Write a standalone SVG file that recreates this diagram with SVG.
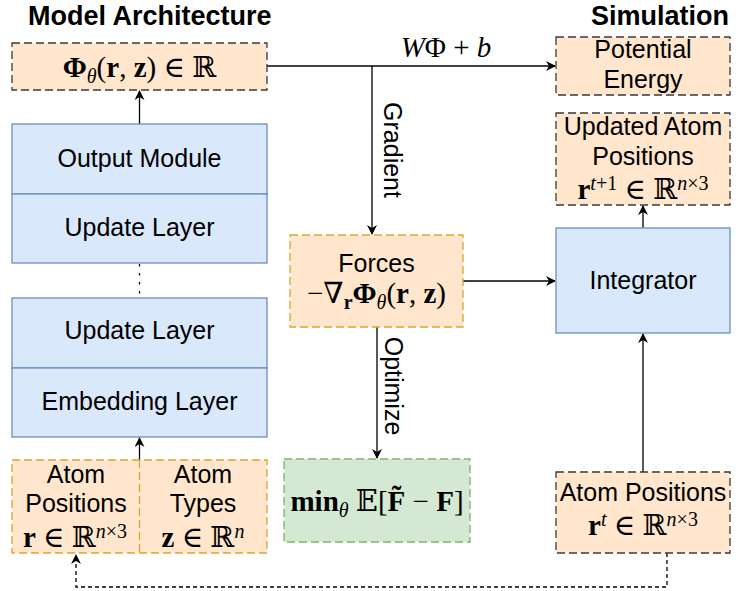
<svg xmlns="http://www.w3.org/2000/svg" width="736" height="591" viewBox="0 0 736 591">
<style>
.title{font-family:"Liberation Sans",Arial,sans-serif;font-weight:bold;font-size:27px;fill:#000}
.lbl{font-family:"Liberation Sans",Arial,sans-serif;font-size:25px;fill:#000;text-anchor:middle}
.m{font-family:"Liberation Serif","DejaVu Serif",serif;font-size:29px;fill:#000;text-anchor:middle}
.b{font-weight:bold}
.i{font-style:italic}
.blue{fill:#dae8fc;stroke:#6c8ebf;stroke-width:1.3}
.og{fill:#ffe6cc;stroke:#3a3a3a;stroke-width:1.3;stroke-dasharray:8 4}
.oy{fill:#ffe6cc;stroke:#d9a630;stroke-width:1.3;stroke-dasharray:8 4}
.gr{fill:#d5e8d4;stroke:#82b366;stroke-width:1.3;stroke-dasharray:8 4}
.c{fill:none;stroke:#000;stroke-width:1.3}
</style>
<defs>
<marker id="a" viewBox="0 0 10 10" refX="9" refY="5" markerWidth="10" markerHeight="10" markerUnits="userSpaceOnUse" orient="auto">
<path d="M0,0 L10,5 L0,10 L3,5 z" fill="#000"/>
</marker>
</defs>
<text class="title" x="28" y="25">Model Architecture</text>
<text class="title" x="729" y="25" text-anchor="end">Simulation</text>

<g id="connectors">
<line class="c" x1="139.5" y1="124" x2="139.5" y2="91" marker-end="url(#a)"/>
<line class="c" x1="139.5" y1="460" x2="139.5" y2="438" marker-end="url(#a)"/>
<line class="c" x1="139.5" y1="264" x2="139.5" y2="298" stroke-dasharray="2.5 6.5"/>
<polyline class="c" points="267,66 555,66" marker-end="url(#a)"/>
<polyline class="c" points="372,66 372,234" marker-end="url(#a)"/>
<line class="c" x1="377" y1="327" x2="377" y2="458" marker-end="url(#a)"/>
<line class="c" x1="463" y1="281" x2="555" y2="281" marker-end="url(#a)"/>
<line class="c" x1="643" y1="472" x2="643" y2="334" marker-end="url(#a)"/>
<line class="c" x1="643" y1="228" x2="643" y2="206" marker-end="url(#a)"/>
<polyline class="c" points="667,553 667,587 76,587 76,555" stroke-dasharray="4 3" marker-end="url(#a)"/>
<text class="m" x="446" y="57" font-size="30"><tspan class="i">W</tspan>Φ + <tspan class="i">b</tspan></text>
<text class="lbl" transform="translate(384,150) rotate(90)" x="0" y="0">Gradient</text>
<text class="lbl" transform="translate(385,386) rotate(90)" x="0" y="0">Optimize</text>
</g>

<g id="phi">
<rect class="og" x="12" y="43" width="255" height="47"/>
<text class="m" x="139.5" y="77"><tspan class="b">Φ</tspan><tspan class="i" font-size="20" dy="6">θ</tspan><tspan dy="-6">(</tspan><tspan class="b">r</tspan>, <tspan class="b">z</tspan>) ∈ ℝ</text>
</g>

<g id="stack-top">
<rect class="blue" x="12" y="124" width="255" height="70"/>
<rect class="blue" x="12" y="194" width="255" height="69"/>
<text class="lbl" x="139.5" y="167">Output Module</text>
<text class="lbl" x="139.5" y="236">Update Layer</text>
</g>

<g id="stack-bottom">
<rect class="blue" x="12" y="298" width="255" height="70"/>
<rect class="blue" x="12" y="368" width="255" height="69"/>
<text class="lbl" x="139.5" y="339">Update Layer</text>
<text class="lbl" x="139.5" y="410">Embedding Layer</text>
</g>

<g id="atoms-in">
<rect class="oy" x="12" y="460" width="255" height="93"/>
<line x1="139.5" y1="460" x2="139.5" y2="553" stroke="#d9a630" stroke-width="1.3" stroke-dasharray="8 4"/>
<text class="lbl" x="76" y="483">Atom</text>
<text class="lbl" x="76" y="512">Positions</text>
<text class="m" x="75" y="547"><tspan class="b">r</tspan> ∈ ℝ<tspan class="i" font-size="20" dy="-9">n</tspan><tspan font-size="20">×3</tspan></text>
<text class="lbl" x="203" y="483">Atom</text>
<text class="lbl" x="203" y="512">Types</text>
<text class="m" x="203" y="547"><tspan class="b">z</tspan> ∈ ℝ<tspan class="i" font-size="20" dy="-9">n</tspan></text>
</g>

<g id="forces">
<rect class="oy" x="290" y="235" width="173" height="92"/>
<text class="lbl" x="376.5" y="272">Forces</text>
<text class="m" x="376.5" y="303">−∇<tspan class="b" font-size="20" dy="6">r</tspan><tspan class="b" dy="-6">Φ</tspan><tspan class="i" font-size="20" dy="6">θ</tspan><tspan dy="-6">(</tspan><tspan class="b">r</tspan>, <tspan class="b">z</tspan>)</text>
</g>

<g id="loss">
<rect class="gr" x="284" y="459" width="186" height="83"/>
<text class="m" x="377" y="511"><tspan class="b">min</tspan><tspan class="i" font-size="20" dy="6">θ</tspan><tspan dy="-6"> 𝔼[</tspan><tspan class="b">F̃</tspan> − <tspan class="b">F</tspan>]</text>
</g>

<g id="energy">
<rect class="og" x="556" y="37" width="174" height="58"/>
<text class="lbl" x="643" y="58">Potential</text>
<text class="lbl" x="643" y="88">Energy</text>
</g>

<g id="updated">
<rect class="og" x="556" y="113" width="174" height="92"/>
<text class="lbl" x="643" y="135">Updated Atom</text>
<text class="lbl" x="643" y="165">Positions</text>
<text class="m" x="643" y="199"><tspan class="b">r</tspan><tspan class="i" font-size="20" dy="-9">t</tspan><tspan font-size="20">+1</tspan><tspan dy="9"> ∈ ℝ</tspan><tspan class="i" font-size="20" dy="-9">n</tspan><tspan font-size="20">×3</tspan></text>
</g>

<g id="integrator">
<rect class="blue" x="556" y="228" width="174" height="105"/>
<text class="lbl" x="643" y="289">Integrator</text>
</g>

<g id="atoms-t">
<rect class="og" x="556" y="472" width="174" height="81"/>
<text class="lbl" x="643" y="501">Atom Positions</text>
<text class="m" x="643" y="535"><tspan class="b">r</tspan><tspan class="i" font-size="20" dy="-9">t</tspan><tspan dy="9"> ∈ ℝ</tspan><tspan class="i" font-size="20" dy="-9">n</tspan><tspan font-size="20">×3</tspan></text>
</g>
</svg>
